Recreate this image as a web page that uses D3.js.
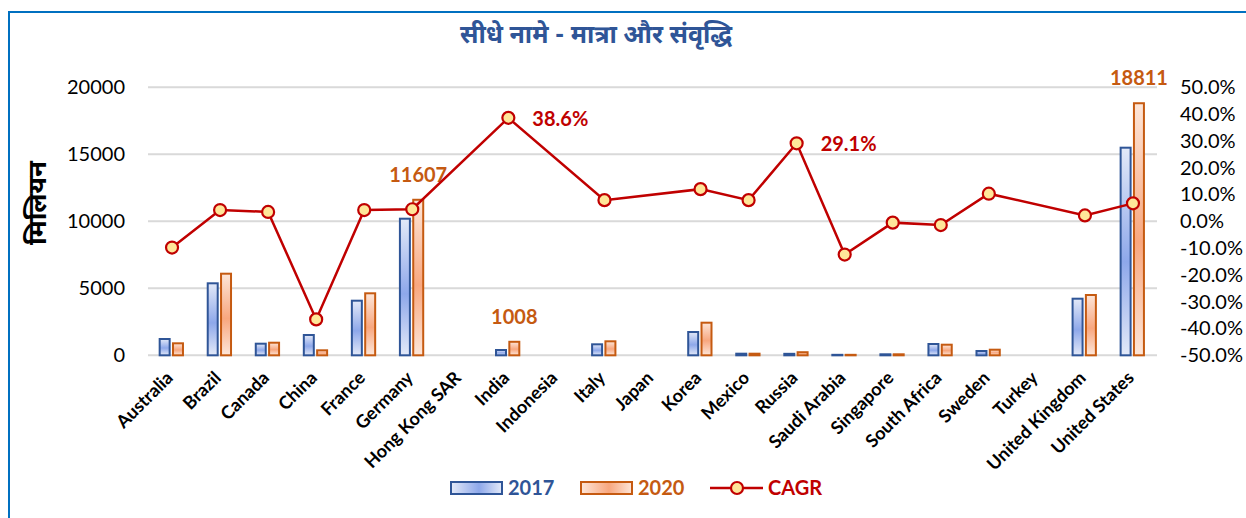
<!DOCTYPE html>
<html>
<head>
<meta charset="utf-8">
<script src="https://cdn.jsdelivr.net/npm/d3@7"></script>
<style>
  body { margin: 0; background: #fff; }
  svg { display: block; font-family: Lato, 'Noto Sans', sans-serif; }
</style>
</head>
<body>
<div class="chart"></div>
<script>
const width = 1246;
const height = 518;

const countries = ['Australia', 'Brazil', 'Canada', 'China', 'France', 'Germany', 'Hong Kong SAR',
  'India', 'Indonesia', 'Italy', 'Japan', 'Korea', 'Mexico', 'Russia', 'Saudi Arabia',
  'Singapore', 'South Africa', 'Sweden', 'Turkey', 'United Kingdom', 'United States'];
const values2017 = [1216, 5373, 866, 1515, 4075, 10194, null, 395, null, 820, null, 1738, 120, 110, 35, 75, 843, 321, null, 4224, 15493];
const values2020 = [895, 6090, 940, 373, 4627, 11607, null, 1008, null, 1044, null, 2433, 120, 230, 35, 75, 791, 418, null, 4500, 18811];
const cagr = [-0.098, 0.042, 0.035, -0.366, 0.042, 0.045, null, 0.386, null, 0.079, null, 0.120, 0.079, 0.291, -0.124, -0.005, -0.014, 0.103, null, 0.022, 0.067];
const leftTicks = [0, 5000, 10000, 15000, 20000];
const rightTicks = [-0.5, -0.4, -0.3, -0.2, -0.1, 0, 0.1, 0.2, 0.3, 0.4, 0.5];
const barLabels = ['Germany', 'India', 'United States'];
const cagrLabels = ['India', 'Russia'];

const color = {
  blue: '#2F5597',
  orange: '#C55A11',
  red: '#C00000',
  marker: '#FFE699',
  grid: '#D9D9D9',
  border: '#0070C0',
};

const svg = d3.select('.chart')
  .append('svg')
    .attr('width', width)
    .attr('height', height);

const defs = svg.append('defs');
function gradient(id, light, dark, horizontal) {
  const g = defs.append('linearGradient')
    .attr('id', id)
    .attr('x1', 0).attr('y1', 0)
    .attr('x2', horizontal ? 1 : 0).attr('y2', horizontal ? 0 : 1);
  g.append('stop').attr('offset', '0%').attr('stop-color', light);
  g.append('stop').attr('offset', '55%').attr('stop-color', dark);
  g.append('stop').attr('offset', '100%').attr('stop-color', light);
}
gradient('g2017', '#E3E9F8', '#8EA8EA', false);
gradient('g2020', '#FDE6D9', '#F8A77F', false);
gradient('l2017', '#E3E9F8', '#8EA8EA', true);
gradient('l2020', '#FDE6D9', '#F8A77F', true);

// chart frame
svg.append('rect')
  .attr('x', 9).attr('y', 12)
  .attr('width', width + 20).attr('height', height + 20)
  .attr('fill', 'none')
  .attr('stroke', color.border)
  .attr('stroke-width', 2);

svg.append('text')
  .attr('x', 596).attr('y', 43)
  .attr('text-anchor', 'middle')
  .attr('font-family', "'Noto Sans Devanagari', 'Noto Sans', sans-serif")
  .attr('font-size', 25)
  .attr('font-weight', 'bold')
  .attr('fill', color.blue)
  .text('सीधे नामे - मात्रा और संवृद्धि');

const x = d3.scaleBand().domain(countries).range([148, 1157]);
const bw = x.bandwidth();
const x1 = d3.scaleBand().domain(['2017', '2020'])
  .range([bw * 0.243, bw * 0.728]).paddingInner(0.25);
const y = d3.scaleLinear().domain([0, 20000]).range([355.3, 87.3]);
const y2 = d3.scaleLinear().domain([-0.5, 0.5]).range([355.3, 87.3]);

// grid
svg.append('g')
  .selectAll('line')
  .data(leftTicks)
  .join('line')
    .attr('x1', 148).attr('x2', 1157)
    .attr('y1', d => y(d)).attr('y2', d => y(d))
    .attr('stroke', color.grid)
    .attr('stroke-width', 2);

// left axis
const leftAxis = svg.append('g')
  .attr('transform', 'translate(138,0)')
  .call(d3.axisLeft(y).tickValues(leftTicks).tickSize(0).tickPadding(13).tickFormat(d3.format('d')));
leftAxis.select('.domain').remove();
leftAxis.selectAll('text').attr('font-size', 20).attr('font-family', 'Lato, sans-serif').attr('fill', '#000');

// right axis
const rightAxis = svg.append('g')
  .attr('transform', 'translate(1170,0)')
  .call(d3.axisRight(y2).tickValues(rightTicks).tickSize(0).tickPadding(10).tickFormat(d3.format('.1%')));
rightAxis.select('.domain').remove();
rightAxis.selectAll('text').attr('font-size', 20).attr('font-family', 'Lato, sans-serif').attr('fill', '#000')
  .text(d => d3.format('.1%')(d).replace('−', '-'));

svg.append('text')
  .attr('transform', 'translate(46,203) rotate(-90)')
  .attr('text-anchor', 'middle')
  .attr('font-family', "'Noto Sans Devanagari', 'Noto Sans', sans-serif")
  .attr('font-size', 26)
  .attr('font-weight', 'bold')
  .attr('fill', '#000')
  .text('मिलियन');

// x labels
svg.append('g')
  .selectAll('text')
  .data(countries)
  .join('text')
    .attr('transform', d => `translate(${x(d) + bw / 2 + 2},379) rotate(-45)`)
    .attr('text-anchor', 'end')
    .attr('font-size', 18)
    .attr('font-weight', 'bold')
    .attr('fill', '#000')
    .text(d => d);

// bars
const rows = countries.map((c, i) => ({ c, v2017: values2017[i], v2020: values2020[i], cagr: cagr[i] }));
const series = [
  { key: '2017', get: d => d.v2017, fill: 'url(#g2017)', stroke: color.blue },
  { key: '2020', get: d => d.v2020, fill: 'url(#g2020)', stroke: color.orange },
];
series.forEach(s => {
  svg.append('g')
    .selectAll('rect')
    .data(rows.filter(d => s.get(d) != null))
    .join('rect')
      .attr('x', d => x(d.c) + x1(s.key))
      .attr('y', d => y(s.get(d)))
      .attr('width', x1.bandwidth())
      .attr('height', d => y(0) - y(s.get(d)))
      .attr('fill', s.fill)
      .attr('stroke', s.stroke)
      .attr('stroke-width', 2);
});

svg.append('g')
  .selectAll('text')
  .data(rows.filter(d => barLabels.includes(d.c)))
  .join('text')
    .attr('x', d => x(d.c) + x1('2020') + x1.bandwidth() / 2)
    .attr('y', d => y(d.v2020) - 18)
    .attr('text-anchor', 'middle')
    .attr('font-size', 20)
    .attr('font-weight', 'bold')
    .attr('fill', color.orange)
    .text(d => d.v2020);

// CAGR line
const pts = rows.filter(d => d.cagr != null);
svg.append('path')
  .datum(pts)
  .attr('d', d3.line().x(d => x(d.c) + bw / 2).y(d => y2(d.cagr)))
  .attr('fill', 'none')
  .attr('stroke', color.red)
  .attr('stroke-width', 2.5);

svg.append('g')
  .selectAll('circle')
  .data(pts)
  .join('circle')
    .attr('cx', d => x(d.c) + bw / 2)
    .attr('cy', d => y2(d.cagr))
    .attr('r', 6)
    .attr('fill', color.marker)
    .attr('stroke', color.red)
    .attr('stroke-width', 2.2);

svg.append('g')
  .selectAll('text')
  .data(pts.filter(d => cagrLabels.includes(d.c)))
  .join('text')
    .attr('x', d => x(d.c) + bw / 2 + 24)
    .attr('y', d => y2(d.cagr) + 1)
    .attr('dy', '0.35em')
    .attr('font-size', 20)
    .attr('font-weight', 'bold')
    .attr('fill', color.red)
    .text(d => d3.format('.1%')(d.cagr));

// legend
const legend = svg.append('g').attr('transform', 'translate(0,488)');
legend.append('rect').attr('x', 451).attr('y', -6).attr('width', 51).attr('height', 12)
  .attr('fill', 'url(#l2017)').attr('stroke', color.blue).attr('stroke-width', 2);
legend.append('text').attr('x', 508).attr('dy', '0.35em').attr('font-size', 20).attr('font-weight', 'bold')
  .attr('fill', color.blue).text('2017');
legend.append('rect').attr('x', 581).attr('y', -6).attr('width', 51).attr('height', 12)
  .attr('fill', 'url(#l2020)').attr('stroke', color.orange).attr('stroke-width', 2);
legend.append('text').attr('x', 638).attr('dy', '0.35em').attr('font-size', 20).attr('font-weight', 'bold')
  .attr('fill', color.orange).text('2020');
legend.append('line').attr('x1', 710).attr('x2', 763)
  .attr('stroke', color.red).attr('stroke-width', 2.5);
legend.append('circle').attr('cx', 737).attr('r', 6)
  .attr('fill', color.marker).attr('stroke', color.red).attr('stroke-width', 2.2);
legend.append('text').attr('x', 768).attr('dy', '0.35em').attr('font-size', 20).attr('font-weight', 'bold')
  .attr('fill', color.red).text('CAGR');
</script>
</body>
</html>
